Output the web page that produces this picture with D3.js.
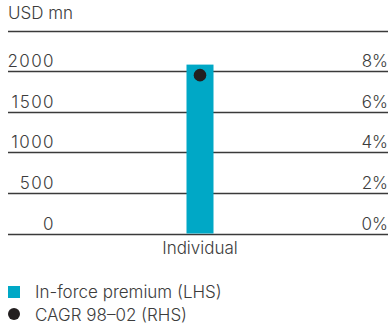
<!DOCTYPE html>
<html>
<head>
<meta charset="utf-8">
<script src="https://cdn.jsdelivr.net/npm/d3@7/dist/d3.min.js"></script>
<style>
  html, body { margin: 0; padding: 0; background: #fff; }
  svg { display: block; }
  text { font-family: Inter, "Liberation Sans", Arial, sans-serif; fill: #3c3c3c; font-weight: 300; }
</style>
</head>
<body>
<svg id="chart" width="388" height="325"></svg>
<script>
// Chart data
const categories = ["Individual"];
const premium = [2080];          // in-force premium, USD mn (left axis)
const cagr = [7.8];              // CAGR 98–02, % (right axis)
const leftTicks = [0, 500, 1000, 1500, 2000, 2500];
const rightTicks = [0, 2, 4, 6, 8, 10];
const unitLabel = "USD mn";
const legendLabels = ["In-force premium (LHS)", "CAGR 98\u201302 (RHS)"];

const plot = { left: 8, right: 388, top: 30.5, bottom: 233.5 };
const barColor = "#00a8c6", dotColor = "#231f20", lineColor = "#3a3a3a";
const fs = 17;

const svg = d3.select("#chart");

const yL = d3.scaleLinear().domain([0, 2500]).range([plot.bottom, plot.top]);
const yR = d3.scaleLinear().domain([0, 10]).range([plot.bottom, plot.top]);
const x = d3.scaleBand().domain(categories).range([plot.left, plot.right + 4]);
const barW = 27;

// unit label
svg.append("text").attr("x", plot.left).attr("y", 19).attr("font-size", fs)
  .text(unitLabel);

// gridlines
svg.append("g").selectAll("line").data(leftTicks).join("line")
  .attr("x1", plot.left).attr("x2", plot.right)
  .attr("y1", d => Math.round(yL(d)) + 0.5).attr("y2", d => Math.round(yL(d)) + 0.5)
  .attr("stroke", lineColor).attr("stroke-width", 1.3);

// left tick labels (top gridline carries no label)
svg.append("g").selectAll("text").data(leftTicks.slice(0, -1)).join("text")
  .attr("x", 55).attr("y", d => yL(d) - 4).attr("text-anchor", "end")
  .attr("font-size", fs).attr("letter-spacing", 1.4)
  .text(d => d);

// right tick labels
svg.append("g").selectAll("text").data(rightTicks.slice(0, -1)).join("text")
  .attr("x", plot.right).attr("y", d => yR(d) - 4).attr("text-anchor", "end")
  .attr("font-size", fs)
  .text(d => d + "%");

// bars
svg.append("g").selectAll("rect").data(categories).join("rect")
  .attr("x", d => x(d) + x.bandwidth() / 2 - barW / 2)
  .attr("width", barW)
  .attr("y", (d, i) => yL(premium[i]))
  .attr("height", (d, i) => yL(0) - yL(premium[i]))
  .attr("fill", barColor);

// CAGR dots
svg.append("g").selectAll("circle").data(categories).join("circle")
  .attr("cx", d => x(d) + x.bandwidth() / 2)
  .attr("cy", (d, i) => yR(cagr[i]))
  .attr("r", 6.3)
  .attr("fill", dotColor);

// category labels
svg.append("g").selectAll("text").data(categories).join("text")
  .attr("x", d => x(d) + x.bandwidth() / 2).attr("y", 254)
  .attr("text-anchor", "middle").attr("font-size", fs)
  .text(d => d);

// legend
const lg = svg.append("g");
lg.append("rect").attr("x", 8).attr("y", 286).attr("width", 12).attr("height", 12).attr("fill", barColor);
lg.append("circle").attr("cx", 14).attr("cy", 314).attr("r", 6).attr("fill", dotColor);
lg.selectAll("text").data(legendLabels).join("text")
  .attr("x", 35).attr("y", (d, i) => 298 + i * 22.5)
  .attr("font-size", fs)
  .text(d => d);
</script>
</body>
</html>
